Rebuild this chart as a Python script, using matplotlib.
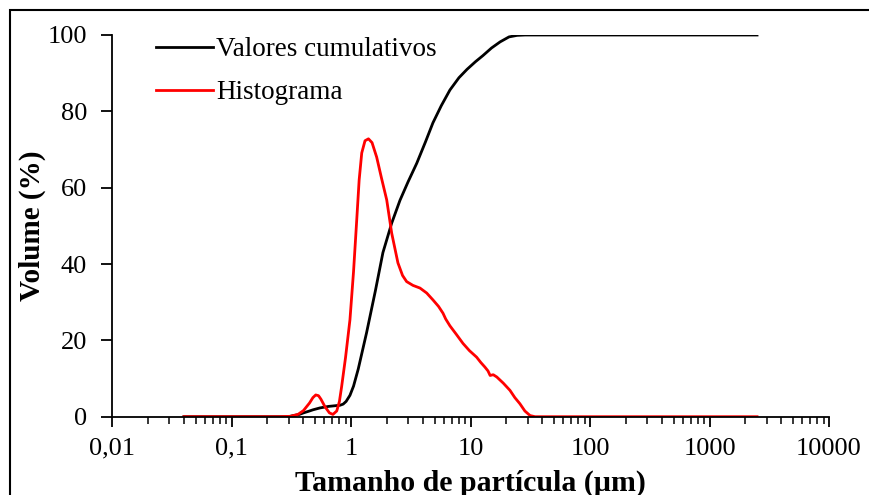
import matplotlib
matplotlib.use("Agg")
import matplotlib.pyplot as plt
from matplotlib.patches import Rectangle
from matplotlib.ticker import FixedLocator, LogLocator, NullFormatter

# Particle size distribution (laser diffraction), volume %
cum_size = [0.04, 0.30, 0.33, 0.37, 0.40, 0.44, 0.48, 0.55, 0.65, 0.75, 0.81,
            0.86, 0.91, 0.98, 1.05, 1.15, 1.35, 1.60, 1.85, 2.19, 2.57, 3.00,
            3.55, 4.20, 4.85, 5.70, 6.73, 8.00, 9.35, 11.0, 12.7, 15.0, 17.7,
            21.0, 24.5, 28.6, 2500]
cum_vol = [0.0, 0.0, 0.3, 0.6, 1.0, 1.4, 1.8, 2.3, 2.7, 2.9, 3.0,
           3.3, 4.0, 5.6, 8.0, 12.5, 22.0, 33.0, 43.0, 50.7, 56.7, 61.5,
           66.4, 72.0, 77.0, 81.5, 85.6, 88.8, 91.0, 93.0, 94.6, 96.6, 98.2,
           99.5, 99.9, 100.0, 100.0]

hist_size = [0.04, 0.25, 0.31, 0.36, 0.40, 0.45, 0.48, 0.507, 0.535, 0.56,
             0.606, 0.66, 0.706, 0.76, 0.80, 0.835, 0.90, 0.98, 1.05, 1.117,
             1.17, 1.23, 1.31, 1.40, 1.50, 1.64, 1.80, 1.99, 2.19, 2.47,
             2.70, 2.92, 3.30, 3.78, 4.30, 4.85, 5.40, 5.89, 6.20, 6.73,
             7.60, 8.65, 9.80, 11.25, 12.2, 13.2, 14.0, 14.6, 15.5, 16.6,
             18.8, 21.4, 23.5, 25.9, 28.5, 31.5, 34.7, 2500]
hist_vol = [0.0, 0.0, 0.1, 0.6, 1.6, 3.6, 5.0, 5.7, 5.5, 4.6,
            2.6, 1.0, 0.6, 1.5, 4.0, 7.9, 15.5, 25.4, 38.0, 51.6,
            62.0, 69.1, 72.3, 72.8, 71.8, 68.0, 62.5, 56.8, 48.1, 40.3,
            37.0, 35.4, 34.4, 33.7, 32.4, 30.6, 28.9, 27.1, 25.6, 23.8,
            21.6, 19.2, 17.3, 15.6, 14.2, 13.0, 12.0, 10.8, 11.0, 10.4,
            8.8, 6.9, 5.0, 3.4, 1.5, 0.3, 0.0, 0.0]

x_ticks = [0.01, 0.1, 1, 10, 100, 1000, 10000]
x_tick_labels = ["0,01", "0,1", "1", "10", "100", "1000", "10000"]
y_ticks = [0, 20, 40, 60, 80, 100]

plt.rcParams["font.family"] = ["Liberation Serif", "DejaVu Serif"]

fig = plt.figure(figsize=(8.69, 4.95), dpi=100)
ax = fig.add_axes([112 / 869, 78.3 / 495, 717 / 869, 381.7 / 495])

ax.plot(cum_size, cum_vol, color="black", lw=2.0, label="Valores cumulativos")
ax.plot(hist_size, hist_vol, color="#ff0000", lw=2.0, label="Histograma")

ax.set_xscale("log")
ax.set_xlim(0.01, 10000)
ax.set_ylim(0, 100)
ax.xaxis.set_major_locator(FixedLocator(x_ticks))
ax.set_xticklabels(x_tick_labels)
ax.xaxis.set_minor_locator(LogLocator(base=10, subs=range(2, 10), numticks=20))
ax.xaxis.set_minor_formatter(NullFormatter())
ax.set_yticks(y_ticks)

for side in ("top", "right"):
    ax.spines[side].set_visible(False)
for side in ("left", "bottom"):
    ax.spines[side].set_linewidth(1.3)

ax.tick_params(axis="x", which="major", direction="out", length=7, width=1.3,
               pad=8, labelsize=19)
ax.tick_params(axis="x", which="minor", direction="out", length=5, width=1.1)
ax.tick_params(axis="y", direction="out", length=8, width=1.3, pad=10,
               labelsize=19)

ax.set_xlabel("Tamanho de partícula (µm)", fontsize=21.5, fontweight="bold",
              labelpad=7)
ax.set_ylabel("Volume (%)", fontsize=21, fontweight="bold", labelpad=1)

ax.legend(loc="upper left", bbox_to_anchor=(0.028, 1.058), frameon=False,
          fontsize=19.5, handlelength=2.1, handletextpad=0.1,
          labelspacing=0.66)

# outer frame around the whole chart
fig.patches.append(Rectangle((10 / 869, -0.2), 1.2, 1.2 - 10 / 495,
                             transform=fig.transFigure, fill=False,
                             edgecolor="black", lw=1.5))

fig.savefig("out.png", dpi=100)
